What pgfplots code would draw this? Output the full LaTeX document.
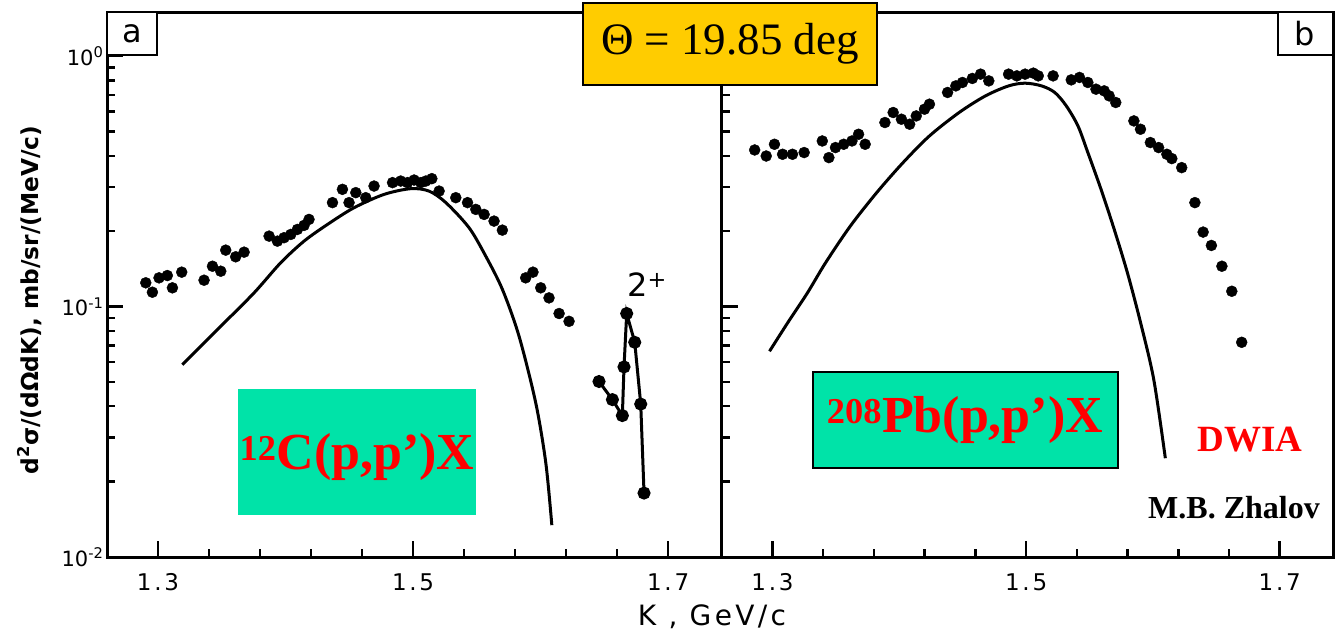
\documentclass[border=0pt]{standalone}
\usepackage{pgfplots}
\pgfplotsset{compat=1.18}
\usepackage{pgfplotstable}
\usepackage{fontspec}
\setmainfont{DejaVu Sans}
\newfontfamily\tnr{Liberation Serif}
\newfontfamily\ticksf[LetterSpace=12]{DejaVu Sans}
\definecolor{boxyellow}{HTML}{FFCC00}
\definecolor{boxgreen}{HTML}{00E3A8}
\definecolor{annred}{HTML}{FF0000}

% 12C(p,p')X, Theta = 19.85 deg : data points
\pgfplotstableread{
K v
1.2904 0.1244
1.2956 0.1141
1.3008 0.1302
1.3073 0.1330
1.3113 0.1188
1.3186 0.1372
1.3361 0.1274
1.3427 0.1449
1.3492 0.1384
1.3531 0.1680
1.3609 0.1580
1.3675 0.1649
1.3871 0.1911
1.3936 0.1825
1.3988 0.1883
1.4041 0.1941
1.4093 0.2032
1.4145 0.2109
1.4184 0.2228
1.4368 0.2600
1.4446 0.2938
1.4498 0.2600
1.4551 0.2850
1.4629 0.2721
1.4694 0.3028
1.4839 0.3125
1.4903 0.3171
1.4956 0.3125
1.5008 0.3200
1.5060 0.3125
1.5100 0.3171
1.5147 0.3241
1.5204 0.2891
1.5335 0.2721
1.5427 0.2600
1.5492 0.2443
1.5557 0.2333
1.5635 0.2194
1.5700 0.2019
1.5883 0.1302
1.5940 0.1372
1.6001 0.1188
1.6066 0.1083
1.6145 0.0938
1.6223 0.0873
}\Cdata

% 2+ state, connected points
\pgfplotstableread{
K v
1.6458 0.0502
1.6563 0.0425
1.6641 0.0367
1.6654 0.0574
1.6675 0.0938
1.6738 0.0720
1.6785 0.0408
1.6811 0.0180
}\Ctwo

% DWIA curve for 12C
\pgfplotstableread{
K v
1.3191 0.0586
1.3492 0.0834
1.3753 0.1134
1.3962 0.1496
1.4145 0.1825
1.4329 0.2128
1.4537 0.2481
1.4773 0.2805
1.4982 0.2956
1.5125 0.2891
1.5257 0.2600
1.5439 0.2064
1.5570 0.1589
1.5701 0.1169
1.5831 0.0761
1.5962 0.0412
1.6041 0.0237
1.6088 0.0134
}\Ccurve

% 208Pb(p,p')X data points
\pgfplotstableread{
K v
1.2860 0.4219
1.2951 0.3992
1.3016 0.4446
1.3080 0.4055
1.3158 0.4055
1.3250 0.4120
1.3393 0.4583
1.3445 0.3934
1.3497 0.4313
1.3562 0.4446
1.3627 0.4583
1.3679 0.4875
1.3731 0.4446
1.3887 0.5430
1.3952 0.5954
1.4017 0.5598
1.4082 0.5346
1.4134 0.5770
1.4199 0.6138
1.4238 0.6427
1.4381 0.7159
1.4446 0.7606
1.4498 0.7847
1.4576 0.8142
1.4641 0.8472
1.4706 0.7964
1.4862 0.8472
1.4927 0.8339
1.4992 0.8472
1.5057 0.8551
1.5096 0.8339
1.5213 0.8339
1.5356 0.8037
1.5421 0.8218
1.5487 0.7847
1.5551 0.7379
1.5616 0.7264
1.5655 0.6939
1.5707 0.6528
1.5850 0.5511
1.5902 0.5105
1.5980 0.4517
1.6045 0.4313
1.6110 0.4055
1.6149 0.3898
1.6227 0.3587
1.6331 0.2600
1.6396 0.1983
1.6461 0.1754
1.6544 0.1449
1.6622 0.1151
1.6700 0.0720
}\Pbdata

% DWIA curve for 208Pb
\pgfplotstableread{
K v
1.2977 0.0663
1.3120 0.0861
1.3276 0.1134
1.3419 0.1496
1.3614 0.2095
1.3822 0.2850
1.4030 0.3757
1.4238 0.4800
1.4472 0.5954
1.4680 0.6939
1.4862 0.7606
1.4992 0.7798
1.5122 0.7606
1.5226 0.7159
1.5317 0.6328
1.5409 0.5263
1.5487 0.4120
1.5591 0.2938
1.5695 0.2032
1.5799 0.1364
1.5903 0.0861
1.6007 0.0510
1.6098 0.0248
}\Pbcurve

\pgfplotsset{
  panel/.style={
    scale only axis, anchor=south west,
    height=545pt,
    xmin=1.26, xmax=1.742,
    ymin=0.01, ymax=1.5,
    xtick={1.3,1.5,1.7},
    xticklabels={1.3,1.5,1.7},
    minor xtick={1.34,1.38,1.42,1.46,1.54,1.58,1.62,1.66},
    ytick={0.01,0.1,1},
    minor ytick={0.02,0.03,0.04,0.05,0.06,0.07,0.08,0.09,0.2,0.3,0.4,0.5,0.6,0.7,0.8,0.9},
    tick align=inside, xtick pos=bottom, ytick pos=left,
    major tick length=16pt, minor tick length=8pt,
    every tick/.append style={black, line width=2.5pt},
    axis line style={line width=3pt},
    xticklabel style={font=\ticksf\fontsize{23}{23}\selectfont, yshift=-13pt},
  }
}

\begin{document}
\begin{tikzpicture}[x=1pt,y=1pt]
\path[use as bounding box] (0,0) rectangle (1344,635);

\begin{semilogyaxis}[panel, at={(107pt,78pt)}, width=614.7pt,
  yticklabels={{10\textsuperscript{-2}},{10\textsuperscript{-1}},{10\textsuperscript{0}}},
  yticklabel style={font=\fontsize{21}{21}\selectfont}]
  \addplot[black, line width=3pt, smooth] table[x=K,y=v] {\Ccurve};
  \addplot[black, only marks, mark=*, mark size=5.5pt] table[x=K,y=v] {\Cdata};
  \addplot[black, line width=3pt, mark=*, mark size=5pt] table[x=K,y=v] {\Ctwo};
\end{semilogyaxis}

\begin{semilogyaxis}[panel, at={(721.7pt,78pt)}, width=611.3pt, yticklabels={}]
  \addplot[black, line width=3pt, smooth] table[x=K,y=v] {\Pbcurve};
  \addplot[black, only marks, mark=*, mark size=5.5pt] table[x=K,y=v] {\Pbdata};
\end{semilogyaxis}

% panel labels
\draw[line width=2.5pt, fill=white] (107,580) rectangle (157,623);
\node at (132,601) {\fontsize{32}{32}\selectfont a};
\draw[line width=2.5pt, fill=white] (1278,580) rectangle (1333,623);
\node at (1305,601) {\fontsize{32}{32}\selectfont b};

% 2+ label
\node at (647,350) {\fontsize{32}{32}\selectfont 2\textsuperscript{+}};

% axis titles
\node[rotate=90] at (30,335) {\fontsize{23.3}{23.3}\selectfont\bfseries d\textsuperscript{2}σ/(dΩdK), mb/sr/(MeV/c)};
\node at (712,18) {\ticksf\fontsize{28}{28}\selectfont K , GeV/c};

% annotation boxes
\draw[line width=2.5pt, fill=boxyellow] (583,550) rectangle (877,632);
\node at (730,591) {\tnr\fontsize{45}{45}\selectfont Θ = 19.85 deg};

\fill[boxgreen] (238,120) rectangle (476,246);
\node at (357,178) {\tnr\bfseries\color{annred}\fontsize{52}{52}\selectfont \textsuperscript{12}C(p,p’)X};

\draw[line width=2.5pt, fill=boxgreen] (813,167) rectangle (1118,263);
\node at (965,215) {\tnr\bfseries\color{annred}\fontsize{52}{52}\selectfont \textsuperscript{208}Pb(p,p’)X};

\node at (1250,195) {\tnr\bfseries\color{annred}\fontsize{37}{37}\selectfont DWIA};
\node at (1234,127) {\tnr\bfseries\fontsize{32}{32}\selectfont M.B. Zhalov};
\end{tikzpicture}
\end{document}
